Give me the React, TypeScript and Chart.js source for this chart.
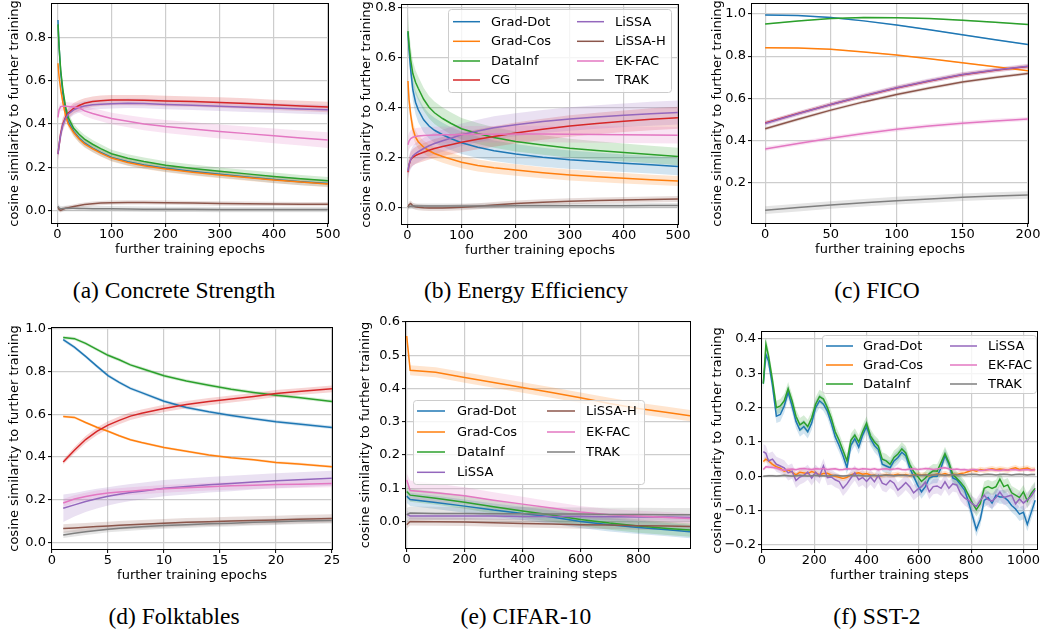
import { useEffect, useRef } from "react";
import { Chart, registerables } from "chart.js";
Chart.register(...registerables);

const FONT = "'DejaVu Sans', sans-serif";
const COLORS: Record<string, string> = {
  "Grad-Dot": "#1f77b4",
  "Grad-Cos": "#ff7f0e",
  DataInf: "#2ca02c",
  CG: "#d62728",
  LiSSA: "#9467bd",
  "LiSSA-H": "#8c564b",
  "EK-FAC": "#e377c2",
  TRAK: "#7f7f7f",
};

// ---------- (a) Concrete Strength ----------
const A_X = [1, 3, 6, 10, 15, 20, 30, 40, 50, 65, 80, 100, 130, 160, 200, 250, 300, 350, 400, 450, 500];
const A_GRAD_DOT = [0.88, 0.76, 0.64, 0.54, 0.46, 0.41, 0.365, 0.335, 0.312, 0.288, 0.268, 0.245, 0.225, 0.21, 0.195, 0.18, 0.167, 0.155, 0.143, 0.133, 0.125];
const A_GRAD_COS = [0.68, 0.62, 0.56, 0.5, 0.44, 0.4, 0.36, 0.33, 0.308, 0.285, 0.265, 0.242, 0.222, 0.207, 0.192, 0.177, 0.164, 0.152, 0.141, 0.131, 0.122];
const A_DATAINF = [0.86, 0.76, 0.65, 0.56, 0.48, 0.43, 0.38, 0.352, 0.33, 0.306, 0.286, 0.262, 0.241, 0.226, 0.209, 0.194, 0.181, 0.169, 0.157, 0.146, 0.137];
const A_CG = [0.26, 0.3, 0.355, 0.4, 0.43, 0.45, 0.472, 0.485, 0.495, 0.503, 0.507, 0.51, 0.51, 0.509, 0.506, 0.503, 0.499, 0.494, 0.488, 0.483, 0.478];
const A_LISSA = [0.26, 0.3, 0.35, 0.395, 0.425, 0.445, 0.465, 0.476, 0.483, 0.488, 0.491, 0.493, 0.495, 0.494, 0.49, 0.486, 0.481, 0.477, 0.473, 0.469, 0.465];
const A_LISSA_H = [0.015, 0.005, 0.0, 0.005, 0.01, 0.013, 0.018, 0.023, 0.027, 0.031, 0.034, 0.036, 0.037, 0.037, 0.036, 0.034, 0.032, 0.031, 0.03, 0.029, 0.029];
const A_EKFAC = [0.43, 0.465, 0.48, 0.482, 0.481, 0.48, 0.478, 0.475, 0.46, 0.448, 0.438, 0.425, 0.412, 0.4, 0.388, 0.376, 0.365, 0.355, 0.345, 0.335, 0.325];
const A_TRAK = [0.02, 0.012, 0.008, 0.009, 0.01, 0.01, 0.01, 0.009, 0.009, 0.008, 0.008, 0.008, 0.007, 0.006, 0.005, 0.005, 0.004, 0.004, 0.004, 0.004, 0.004];
const A_SD_GRAD_DOT = [0.01, 0.015, 0.018, 0.02, 0.02, 0.02, 0.02, 0.02, 0.019, 0.018, 0.018, 0.017, 0.017, 0.016, 0.016, 0.016, 0.016, 0.016, 0.016, 0.016, 0.016];
const A_SD_GRAD_COS = [0.01, 0.014, 0.016, 0.018, 0.018, 0.018, 0.018, 0.017, 0.017, 0.016, 0.016, 0.016, 0.015, 0.015, 0.015, 0.015, 0.015, 0.015, 0.015, 0.015, 0.015];
const A_SD_DATAINF = [0.01, 0.015, 0.018, 0.02, 0.02, 0.02, 0.02, 0.02, 0.02, 0.02, 0.02, 0.019, 0.019, 0.019, 0.018, 0.018, 0.018, 0.018, 0.018, 0.018, 0.018];
const A_SD_CG = [0.03, 0.03, 0.03, 0.028, 0.026, 0.025, 0.024, 0.024, 0.024, 0.024, 0.024, 0.024, 0.024, 0.024, 0.024, 0.024, 0.024, 0.024, 0.024, 0.024, 0.024];
const A_SD_LISSA = [0.03, 0.03, 0.03, 0.028, 0.026, 0.025, 0.024, 0.023, 0.023, 0.022, 0.022, 0.022, 0.022, 0.022, 0.022, 0.022, 0.022, 0.022, 0.022, 0.022, 0.022];
const A_SD_EKFAC = [0.02, 0.02, 0.02, 0.02, 0.02, 0.02, 0.02, 0.022, 0.024, 0.025, 0.026, 0.027, 0.028, 0.029, 0.03, 0.031, 0.032, 0.033, 0.034, 0.035, 0.036];
const A_SD_LISSA_H = 0.01;
const A_SD_TRAK = 0.012;

// ---------- (b) Energy Efficiency ----------
const B_X = [1, 3, 6, 10, 15, 20, 30, 40, 50, 65, 80, 100, 130, 160, 200, 250, 300, 350, 400, 450, 500];
const B_GRAD_DOT = [0.7, 0.63, 0.55, 0.47, 0.42, 0.39, 0.35, 0.325, 0.308, 0.29, 0.275, 0.258, 0.24, 0.226, 0.213, 0.2, 0.19, 0.183, 0.176, 0.17, 0.163];
const B_GRAD_COS = [0.505, 0.43, 0.37, 0.315, 0.28, 0.262, 0.24, 0.226, 0.215, 0.203, 0.193, 0.18, 0.167, 0.158, 0.149, 0.138, 0.129, 0.122, 0.116, 0.11, 0.105];
const B_DATAINF = [0.705, 0.65, 0.59, 0.535, 0.5, 0.476, 0.432, 0.4, 0.378, 0.355, 0.336, 0.314, 0.295, 0.279, 0.263, 0.249, 0.236, 0.227, 0.219, 0.211, 0.203];
const B_CG = [0.14, 0.17, 0.19, 0.2, 0.207, 0.212, 0.22, 0.228, 0.235, 0.243, 0.25, 0.26, 0.272, 0.283, 0.297, 0.312, 0.325, 0.335, 0.344, 0.352, 0.358];
const B_LISSA = [0.145, 0.17, 0.19, 0.205, 0.215, 0.222, 0.235, 0.246, 0.255, 0.266, 0.276, 0.29, 0.305, 0.318, 0.33, 0.343, 0.353, 0.361, 0.368, 0.374, 0.379];
const B_LISSA_H = [0.0, 0.01, 0.015, 0.006, 0.002, 0.0, -0.002, -0.003, -0.003, -0.003, -0.002, 0.0, 0.004, 0.009, 0.015, 0.02, 0.024, 0.027, 0.029, 0.031, 0.033];
const B_EKFAC = [0.25, 0.265, 0.275, 0.28, 0.283, 0.285, 0.287, 0.288, 0.289, 0.29, 0.29, 0.291, 0.292, 0.292, 0.293, 0.293, 0.292, 0.291, 0.29, 0.289, 0.288];
const B_TRAK = [0.0, 0.003, 0.004, 0.005, 0.005, 0.005, 0.005, 0.005, 0.005, 0.005, 0.005, 0.005, 0.005, 0.005, 0.006, 0.006, 0.006, 0.006, 0.006, 0.007, 0.007];
const B_SD_GRAD_DOT = [0.02, 0.03, 0.04, 0.045, 0.048, 0.05, 0.05, 0.05, 0.05, 0.048, 0.046, 0.045, 0.043, 0.041, 0.04, 0.038, 0.037, 0.036, 0.035, 0.035, 0.035];
const B_SD_GRAD_COS = [0.03, 0.03, 0.03, 0.03, 0.028, 0.027, 0.026, 0.025, 0.025, 0.025, 0.025, 0.024, 0.024, 0.023, 0.023, 0.022, 0.022, 0.021, 0.021, 0.02, 0.02];
const B_SD_DATAINF = [0.07, 0.06, 0.055, 0.05, 0.048, 0.047, 0.046, 0.045, 0.045, 0.044, 0.044, 0.043, 0.042, 0.041, 0.04, 0.039, 0.038, 0.037, 0.036, 0.035, 0.035];
const B_SD_CG = [0.03, 0.03, 0.032, 0.033, 0.034, 0.035, 0.036, 0.037, 0.038, 0.038, 0.039, 0.04, 0.04, 0.041, 0.042, 0.042, 0.043, 0.043, 0.043, 0.044, 0.044];
const B_SD_LISSA = [0.03, 0.035, 0.038, 0.04, 0.041, 0.042, 0.043, 0.043, 0.044, 0.044, 0.045, 0.045, 0.045, 0.046, 0.046, 0.046, 0.047, 0.047, 0.047, 0.048, 0.048];
const B_SD_EKFAC = 0.033;
const B_SD_LISSA_H = 0.012;
const B_SD_TRAK = 0.01;

// ---------- (c) FICO ----------
const C_X = [0, 25, 50, 75, 100, 125, 150, 175, 200];
const C_GRAD_DOT = [0.995, 0.992, 0.983, 0.967, 0.947, 0.925, 0.901, 0.878, 0.855];
const C_GRAD_COS = [0.84, 0.838, 0.832, 0.82, 0.805, 0.788, 0.768, 0.75, 0.731];
const C_DATAINF = [0.952, 0.967, 0.978, 0.983, 0.982, 0.978, 0.97, 0.96, 0.95];
const C_CG = [0.483, 0.528, 0.571, 0.611, 0.649, 0.682, 0.712, 0.733, 0.751];
const C_LISSA = [0.481, 0.527, 0.571, 0.612, 0.65, 0.683, 0.713, 0.734, 0.752];
const C_LISSA_H = [0.456, 0.501, 0.544, 0.583, 0.618, 0.649, 0.677, 0.699, 0.718];
const C_EKFAC = [0.36, 0.386, 0.411, 0.433, 0.453, 0.469, 0.482, 0.493, 0.502];
const C_TRAK = [0.07, 0.082, 0.094, 0.105, 0.115, 0.123, 0.131, 0.137, 0.142];
const C_SD_SMALL = 0.003;
const C_SD_CG = 0.01;
const C_SD_LISSA = 0.012;
const C_SD_LISSA_H = 0.008;
const C_SD_EKFAC = 0.01;
const C_SD_TRAK = 0.018;

// ---------- (d) Folktables ----------
const D_X = [1, 2, 3, 4, 5, 6, 7, 8, 10, 12, 14, 16, 18, 20, 22, 25];
const D_GRAD_DOT = [0.95, 0.915, 0.872, 0.826, 0.782, 0.75, 0.722, 0.702, 0.662, 0.632, 0.612, 0.595, 0.58, 0.566, 0.555, 0.539];
const D_GRAD_COS = [0.59, 0.586, 0.562, 0.54, 0.521, 0.5, 0.481, 0.468, 0.445, 0.427, 0.41, 0.397, 0.387, 0.375, 0.368, 0.355];
const D_DATAINF = [0.96, 0.955, 0.933, 0.905, 0.877, 0.856, 0.832, 0.815, 0.781, 0.757, 0.737, 0.718, 0.703, 0.69, 0.679, 0.661];
const D_CG = [0.377, 0.432, 0.482, 0.52, 0.55, 0.572, 0.592, 0.605, 0.628, 0.646, 0.66, 0.672, 0.684, 0.698, 0.707, 0.72];
const D_LISSA = [0.16, 0.176, 0.192, 0.205, 0.216, 0.226, 0.234, 0.24, 0.254, 0.262, 0.27, 0.276, 0.283, 0.289, 0.294, 0.301];
const D_LISSA_H = [0.065, 0.068, 0.071, 0.074, 0.077, 0.08, 0.083, 0.085, 0.09, 0.094, 0.097, 0.1, 0.103, 0.105, 0.108, 0.112];
const D_EKFAC = [0.185, 0.203, 0.215, 0.225, 0.232, 0.236, 0.24, 0.244, 0.251, 0.256, 0.261, 0.265, 0.268, 0.271, 0.273, 0.276];
const D_TRAK = [0.035, 0.043, 0.05, 0.056, 0.062, 0.066, 0.07, 0.073, 0.079, 0.083, 0.087, 0.09, 0.094, 0.097, 0.1, 0.103];
const D_SD_CG = [0.012, 0.015, 0.017, 0.018, 0.018, 0.018, 0.018, 0.018, 0.017, 0.017, 0.017, 0.016, 0.016, 0.016, 0.016, 0.016];
const D_SD_LISSA = [0.065, 0.055, 0.05, 0.046, 0.043, 0.041, 0.04, 0.039, 0.038, 0.037, 0.036, 0.036, 0.035, 0.035, 0.035, 0.035];
const D_SD_GRAD = 0.008;
const D_SD_GRAD_COS = 0.006;
const D_SD_EKFAC = 0.018;
const D_SD_LISSA_H = 0.02;
const D_SD_TRAK = 0.015;

// ---------- (e) CIFAR-10 ----------
const E_X = [0, 12, 100, 200, 300, 400, 500, 600, 700, 800, 900, 978];
const E_GRAD_DOT = [0.076, 0.066, 0.057, 0.046, 0.034, 0.024, 0.013, 0.0, -0.01, -0.018, -0.025, -0.031];
const E_GRAD_COS = [0.558, 0.455, 0.449, 0.433, 0.418, 0.403, 0.388, 0.372, 0.355, 0.34, 0.328, 0.318];
const E_DATAINF = [0.09, 0.079, 0.07, 0.058, 0.044, 0.031, 0.019, 0.006, -0.005, -0.014, -0.021, -0.026];
const E_LISSA = [0.022, 0.016, 0.016, 0.016, 0.016, 0.015, 0.015, 0.015, 0.014, 0.013, 0.013, 0.012];
const E_LISSA_H = [-0.01, 0.0, -0.001, -0.002, -0.004, -0.006, -0.008, -0.01, -0.011, -0.013, -0.014, -0.015];
const E_EKFAC = [0.125, 0.093, 0.086, 0.077, 0.064, 0.052, 0.04, 0.028, 0.02, 0.016, 0.012, 0.009];
const E_TRAK = [0.02, 0.025, 0.024, 0.024, 0.023, 0.023, 0.022, 0.022, 0.021, 0.021, 0.02, 0.02];
const E_SD_GRAD_COS = [0.012, 0.015, 0.015, 0.016, 0.016, 0.016, 0.016, 0.016, 0.017, 0.017, 0.017, 0.017];
const E_SD_EKFAC = [0.02, 0.03, 0.028, 0.026, 0.024, 0.022, 0.02, 0.018, 0.017, 0.016, 0.016, 0.015];
const E_SD_GRAD = 0.02;
const E_SD_LISSA = 0.01;
const E_SD_LISSA_H = 0.012;
const E_SD_TRAK = 0.02;

// ---------- (f) SST-2 ----------
const F_X = [5, 15, 25, 40, 55, 70, 85, 100, 115, 130, 145, 160, 175, 190, 205, 220, 235, 250, 265, 280, 295, 310, 325, 340, 355, 370, 385, 400, 415, 430, 445, 460, 475, 490, 505, 520, 535, 550, 565, 580, 595, 610, 625, 640, 655, 670, 685, 700, 715, 730, 745, 760, 775, 790, 805, 820, 835, 850, 865, 880, 895, 910, 925, 940, 955, 970, 985, 1000, 1015, 1030, 1045];
const F_GRAD_DOT = [0.27, 0.355, 0.335, 0.265, 0.175, 0.18, 0.205, 0.245, 0.205, 0.16,
  0.135, 0.145, 0.13, 0.155, 0.2, 0.22, 0.21, 0.19, 0.155, 0.115,
  0.09, 0.06, 0.025, 0.09, 0.11, 0.085, 0.12, 0.145, 0.11, 0.09,
  0.078, 0.035, 0.03, 0.025, 0.045, 0.055, 0.07, 0.06, 0.025, 0.0,
  -0.025, -0.045, -0.03, -0.005, 0.0, 0.0, 0.025, 0.06, 0.035, -0.005,
  -0.01, -0.025, -0.04, -0.075, -0.115, -0.155, -0.125, -0.07, -0.062, -0.078,
  -0.055, -0.06, -0.06, -0.07, -0.085, -0.095, -0.11, -0.105, -0.14, -0.105, -0.07];
const F_GRAD_COS = [0.043, 0.05, 0.045, 0.035, 0.028, 0.024, 0.015, 0.018, 0.012, 0.004,
  0.012, 0.01, 0.008, 0.014, 0.01, 0.005, 0.008, 0.009, 0.004, 0.0,
  -0.003, -0.006, -0.003, 0.004, 0.008, 0.01, 0.006, 0.008, 0.004, 0.003,
  0.0, 0.002, 0.005, 0.003, 0.004, 0.006, 0.003, 0.005, 0.002, 0.004,
  0.006, 0.003, 0.005, 0.002, 0.004, 0.007, 0.005, 0.008, 0.004, 0.006,
  0.005, 0.008, 0.01, 0.014, 0.018, 0.015, 0.02, 0.018, 0.02, 0.022,
  0.019, 0.021, 0.02, 0.018, 0.022, 0.025, 0.02, 0.022, 0.024, 0.019, 0.02];
const F_DATAINF = [0.27, 0.385, 0.35, 0.28, 0.2, 0.205, 0.22, 0.255, 0.22, 0.175,
  0.15, 0.158, 0.145, 0.17, 0.21, 0.232, 0.225, 0.2, 0.17, 0.13,
  0.105, 0.075, 0.045, 0.105, 0.12, 0.1, 0.13, 0.155, 0.118, 0.1,
  0.088, 0.05, 0.045, 0.035, 0.055, 0.065, 0.08, 0.068, 0.035, 0.014,
  0.0, -0.015, -0.005, 0.008, 0.016, 0.015, 0.04, 0.066, 0.04, 0.005,
  -0.006, -0.018, -0.032, -0.055, -0.078, -0.097, -0.08, -0.035, -0.03, -0.035,
  -0.03, -0.008, -0.03, -0.025, -0.048, -0.055, -0.062, -0.045, -0.072, -0.05, -0.035];
const F_LISSA = [0.072, 0.067, 0.045, 0.05, 0.035, 0.03, 0.025, 0.01, 0.015, -0.012,
  -0.002, 0.003, 0.012, -0.005, 0.012, 0.0, 0.03, -0.004, -0.002, -0.01,
  -0.015, -0.035, -0.022, -0.005, 0.01, -0.01, -0.003, -0.015, -0.002, -0.016,
  0.003, -0.02, -0.025, -0.012, -0.02, -0.04, -0.03, -0.018, -0.03, -0.048,
  -0.038, -0.03, -0.017, -0.045, -0.03, -0.028, -0.035, -0.016, -0.035, -0.022,
  -0.025, -0.05, -0.063, -0.07, -0.08, -0.088, -0.07, -0.055, -0.068, -0.072,
  -0.062, -0.046, -0.062, -0.058, -0.055, -0.08, -0.066, -0.078, -0.068, -0.058, -0.04];
const F_EKFAC = [0.02, 0.028, 0.027, 0.026, 0.024, 0.02, 0.018, 0.02, 0.021, 0.019,
  0.022, 0.023, 0.021, 0.02, 0.022, 0.021, 0.023, 0.02, 0.021, 0.022,
  0.019, 0.02, 0.022, 0.021, 0.023, 0.02, 0.022, 0.021, 0.02, 0.022,
  0.019, 0.021, 0.022, 0.02, 0.021, 0.023, 0.02, 0.019, 0.021, 0.022,
  0.02, 0.021, 0.023, 0.022, 0.02, 0.021, 0.024, 0.025, 0.022, 0.02,
  0.021, 0.019, 0.02, 0.018, 0.02, 0.019, 0.017, 0.018, 0.02, 0.019,
  0.018, 0.017, 0.019, 0.018, 0.02, 0.019, 0.018, 0.019, 0.02, 0.018, 0.019];
const F_TRAK = [0.0, 0.001, 0.002, 0.002, 0.001, 0.002, 0.003, 0.002, 0.001, 0.002,
  0.003, 0.002, 0.001, 0.002, 0.003, 0.002, 0.002, 0.001, 0.002, 0.003,
  0.002, 0.001, 0.002, 0.003, 0.002, 0.003, 0.002, 0.001, 0.002, 0.003,
  0.002, 0.003, 0.004, 0.003, 0.002, 0.003, 0.004, 0.003, 0.002, 0.003,
  0.004, 0.003, 0.004, 0.003, 0.004, 0.005, 0.004, 0.003, 0.004, 0.005,
  0.004, 0.005, 0.004, 0.005, 0.006, 0.005, 0.004, 0.005, 0.006, 0.005,
  0.004, 0.005, 0.006, 0.005, 0.004, 0.005, 0.006, 0.005, 0.004, 0.005, 0.005];
const F_SD_GRAD_DOT = 0.02;
const F_SD_GRAD_COS = 0.008;
const F_SD_DATAINF = 0.02;
const F_SD_LISSA = 0.022;
const F_SD_EKFAC = 0.005;
const F_SD_TRAK = 0.003;

// ---------- ticks ----------
const TICKS_X_500 = [0, 100, 200, 300, 400, 500];
const TICKS_X_200 = [0, 50, 100, 150, 200];
const TICKS_X_25 = [0, 5, 10, 15, 20, 25];
const TICKS_X_800 = [0, 200, 400, 600, 800];
const TICKS_X_1000 = [0, 200, 400, 600, 800, 1000];
const TICKS_Y_08 = [0, 0.2, 0.4, 0.6, 0.8];
const TICKS_Y_C = [0.2, 0.4, 0.6, 0.8, 1.0];
const TICKS_Y_10 = [0, 0.2, 0.4, 0.6, 0.8, 1.0];
const TICKS_Y_E = [0, 0.1, 0.2, 0.3, 0.4, 0.5, 0.6];
const TICKS_Y_F = [-0.2, -0.1, 0, 0.1, 0.2, 0.3, 0.4];

const Y_TITLE = "cosine similarity to further training";

type Series = { name: string; y: number[]; sd: number[] | number };
type LegendCfg = { box: number[]; rows: number[]; cols: { l0: number; l1: number; tx: number }[] };
type Panel = {
  key: string;
  x: number[];
  series: Series[];
  xTicks: number[];
  yTicks: number[];
  xRange: [number, number];
  yRange: [number, number];
  xTitle: string;
  caption: string;
  rect: [number, number, number, number];
  yTitleX: number;
  capX: number;
  capTop: number;
  legend?: LegendCfg;
};

const PANELS: Panel[] = [
  {
    key: "a", x: A_X,
    series: [
      { name: "Grad-Dot", y: A_GRAD_DOT, sd: A_SD_GRAD_DOT },
      { name: "Grad-Cos", y: A_GRAD_COS, sd: A_SD_GRAD_COS },
      { name: "DataInf", y: A_DATAINF, sd: A_SD_DATAINF },
      { name: "CG", y: A_CG, sd: A_SD_CG },
      { name: "LiSSA", y: A_LISSA, sd: A_SD_LISSA },
      { name: "LiSSA-H", y: A_LISSA_H, sd: A_SD_LISSA_H },
      { name: "EK-FAC", y: A_EKFAC, sd: A_SD_EKFAC },
      { name: "TRAK", y: A_TRAK, sd: A_SD_TRAK },
    ],
    xTicks: TICKS_X_500, yTicks: TICKS_Y_08, xRange: [-10, 500], yRange: [-0.058, 0.954],
    xTitle: "further training epochs", caption: "(a) Concrete Strength",
    rect: [52, 4, 328, 223], yTitleX: 15, capX: 174, capTop: 279,
  },
  {
    key: "b", x: B_X,
    series: [
      { name: "Grad-Dot", y: B_GRAD_DOT, sd: B_SD_GRAD_DOT },
      { name: "Grad-Cos", y: B_GRAD_COS, sd: B_SD_GRAD_COS },
      { name: "DataInf", y: B_DATAINF, sd: B_SD_DATAINF },
      { name: "CG", y: B_CG, sd: B_SD_CG },
      { name: "LiSSA", y: B_LISSA, sd: B_SD_LISSA },
      { name: "LiSSA-H", y: B_LISSA_H, sd: B_SD_LISSA_H },
      { name: "EK-FAC", y: B_EKFAC, sd: B_SD_EKFAC },
      { name: "TRAK", y: B_TRAK, sd: B_SD_TRAK },
    ],
    xTicks: TICKS_X_500, yTicks: TICKS_Y_08, xRange: [-10, 500], yRange: [-0.067, 0.809],
    xTitle: "further training epochs", caption: "(b) Energy Efficiency",
    rect: [402, 5, 678, 224], yTitleX: 367, capX: 526, capTop: 279,
    legend: { box: [448, 9, 671, 92], rows: [21.7, 41.3, 61, 80], cols: [{ l0: 453, l1: 480, tx: 491 }, { l0: 577, l1: 604, tx: 615 }] },
  },
  {
    key: "c", x: C_X,
    series: [
      { name: "Grad-Dot", y: C_GRAD_DOT, sd: C_SD_SMALL },
      { name: "Grad-Cos", y: C_GRAD_COS, sd: C_SD_SMALL },
      { name: "DataInf", y: C_DATAINF, sd: C_SD_SMALL },
      { name: "CG", y: C_CG, sd: C_SD_CG },
      { name: "LiSSA", y: C_LISSA, sd: C_SD_LISSA },
      { name: "LiSSA-H", y: C_LISSA_H, sd: C_SD_LISSA_H },
      { name: "EK-FAC", y: C_EKFAC, sd: C_SD_EKFAC },
      { name: "TRAK", y: C_TRAK, sd: C_SD_TRAK },
    ],
    xTicks: TICKS_X_200, yTicks: TICKS_Y_C, xRange: [-10, 200], yRange: [0.009, 1.047],
    xTitle: "further training epochs", caption: "(c) FICO",
    rect: [752, 4, 1028, 223], yTitleX: 718, capX: 877, capTop: 279,
  },
  {
    key: "d", x: D_X,
    series: [
      { name: "Grad-Dot", y: D_GRAD_DOT, sd: D_SD_GRAD },
      { name: "Grad-Cos", y: D_GRAD_COS, sd: D_SD_GRAD_COS },
      { name: "DataInf", y: D_DATAINF, sd: D_SD_GRAD },
      { name: "CG", y: D_CG, sd: D_SD_CG },
      { name: "LiSSA", y: D_LISSA, sd: D_SD_LISSA },
      { name: "LiSSA-H", y: D_LISSA_H, sd: D_SD_LISSA_H },
      { name: "EK-FAC", y: D_EKFAC, sd: D_SD_EKFAC },
      { name: "TRAK", y: D_TRAK, sd: D_SD_TRAK },
    ],
    xTicks: TICKS_X_25, yTicks: TICKS_Y_10, xRange: [0, 25], yRange: [-0.031, 1.005],
    xTitle: "further training epochs", caption: "(d) Folktables",
    rect: [52, 328, 332, 549], yTitleX: 15, capX: 174, capTop: 605,
  },
  {
    key: "e", x: E_X,
    series: [
      { name: "Grad-Dot", y: E_GRAD_DOT, sd: E_SD_GRAD },
      { name: "Grad-Cos", y: E_GRAD_COS, sd: E_SD_GRAD_COS },
      { name: "DataInf", y: E_DATAINF, sd: E_SD_GRAD },
      { name: "LiSSA", y: E_LISSA, sd: E_SD_LISSA },
      { name: "LiSSA-H", y: E_LISSA_H, sd: E_SD_LISSA_H },
      { name: "EK-FAC", y: E_EKFAC, sd: E_SD_EKFAC },
      { name: "TRAK", y: E_TRAK, sd: E_SD_TRAK },
    ],
    xTicks: TICKS_X_800, yTicks: TICKS_Y_E, xRange: [-2.4, 978], yRange: [-0.08, 0.6],
    xTitle: "further training steps", caption: "(e) CIFAR-10",
    rect: [406, 322, 690, 548], yTitleX: 366, capX: 526, capTop: 605,
    legend: { box: [413, 400, 644, 484], rows: [411, 432, 452, 472.3], cols: [{ l0: 417, l1: 445, tx: 457 }, { l0: 547, l1: 575, tx: 586 }] },
  },
  {
    key: "f", x: F_X,
    series: [
      { name: "Grad-Dot", y: F_GRAD_DOT, sd: F_SD_GRAD_DOT },
      { name: "Grad-Cos", y: F_GRAD_COS, sd: F_SD_GRAD_COS },
      { name: "DataInf", y: F_DATAINF, sd: F_SD_DATAINF },
      { name: "LiSSA", y: F_LISSA, sd: F_SD_LISSA },
      { name: "EK-FAC", y: F_EKFAC, sd: F_SD_EKFAC },
      { name: "TRAK", y: F_TRAK, sd: F_SD_TRAK },
    ],
    xTicks: TICKS_X_1000, yTicks: TICKS_Y_F, xRange: [0, 1052], yRange: [-0.2117, 0.4204],
    xTitle: "further training steps", caption: "(f) SST-2",
    rect: [762, 332, 1037, 549], yTitleX: 718, capX: 877, capTop: 605,
    legend: { box: [822, 335, 1036, 393], rows: [346, 365, 384], cols: [{ l0: 826, l1: 853, tx: 863 }, { l0: 950, l1: 977, tx: 988 }] },
  },
];

const TPAD = 16;
const BPAD = 36;
const RPAD = 24;
const GRID = "#cdcdcd";

function rgba(hex: string, a: number) {
  const n = parseInt(hex.slice(1), 16);
  return `rgba(${(n >> 16) & 255},${(n >> 8) & 255},${n & 255},${a})`;
}

function fmtY(v: number) {
  return v.toFixed(1).replace("-", "\u2212");
}

function PanelChart({ p }: { p: Panel }) {
  const ref = useRef<HTMLCanvasElement>(null);
  const [x0, y0, x1, y1] = p.rect;
  const cl = Math.floor(p.yTitleX - 10);
  const ct = y0 - TPAD;
  const lpad = x0 - cl;
  const w = x1 - x0 + lpad + RPAD;
  const h = y1 - y0 + TPAD + BPAD;

  useEffect(() => {
    if (!ref.current) return;
    const datasets: any[] = [];
    p.series.forEach((s, i) => {
      const sd = (j: number) => (typeof s.sd === "number" ? s.sd : s.sd[j]);
      datasets.push({
        label: "_lo_" + s.name,
        data: p.x.map((x, j) => ({ x, y: s.y[j] - sd(j) })),
        borderColor: "transparent", borderWidth: 0, pointRadius: 0, fill: false, order: 500 - i,
      });
      datasets.push({
        label: "_hi_" + s.name,
        data: p.x.map((x, j) => ({ x, y: s.y[j] + sd(j) })),
        borderColor: "transparent", borderWidth: 0, pointRadius: 0,
        fill: "-1", backgroundColor: rgba(COLORS[s.name], 0.2), order: 500 - i,
      });
    });
    p.series.forEach((s, i) => {
      datasets.push({
        label: s.name,
        data: p.x.map((x, j) => ({ x, y: s.y[j] })),
        borderColor: COLORS[s.name], borderWidth: 1.5, pointRadius: 0, fill: false, order: 100 - i,
      });
    });

    const framePlugin = {
      id: "frame",
      afterDatasetsDraw(chart: any) {
        const { ctx, chartArea: a } = chart;
        ctx.save();
        ctx.strokeStyle = "#000";
        ctx.lineWidth = 1;
        ctx.strokeRect(Math.round(a.left) - 0.5, Math.round(a.top) - 0.5, Math.round(a.right - a.left) + 1, Math.round(a.bottom - a.top) + 1);
        ctx.restore();
      },
    };

    const legendPlugin = {
      id: "mplLegend",
      afterDraw(chart: any) {
        const L = p.legend;
        if (!L) return;
        const ctx = chart.ctx as CanvasRenderingContext2D;
        const [bx0, by0, bx1, by1] = L.box;
        const X = (v: number) => v - cl;
        const Y = (v: number) => v - ct;
        ctx.save();
        ctx.beginPath();
        ctx.roundRect(X(bx0) + 0.5, Y(by0) + 0.5, bx1 - bx0, by1 - by0, 3);
        ctx.fillStyle = "rgba(255,255,255,0.8)";
        ctx.fill();
        ctx.strokeStyle = "#cccccc";
        ctx.lineWidth = 1;
        ctx.stroke();
        const nr = L.rows.length;
        ctx.font = `13px ${FONT}`;
        ctx.textBaseline = "middle";
        ctx.textAlign = "left";
        p.series.forEach((s, i) => {
          const col = L.cols[Math.floor(i / nr)];
          const ry = Y(L.rows[i % nr]);
          ctx.strokeStyle = COLORS[s.name];
          ctx.lineWidth = 1.5;
          ctx.beginPath();
          ctx.moveTo(X(col.l0), ry);
          ctx.lineTo(X(col.l1), ry);
          ctx.stroke();
          ctx.fillStyle = "#000";
          ctx.fillText(s.name, X(col.tx), ry + 0.5);
        });
        ctx.restore();
      },
    };

    const chart = new Chart(ref.current, {
      type: "line",
      data: { datasets },
      options: {
        animation: false,
        responsive: false,
        events: [],
        layout: { padding: { top: TPAD, right: RPAD, left: 0, bottom: 0 } },
        plugins: { legend: { display: false }, tooltip: { enabled: false } },
        scales: {
          x: {
            type: "linear", min: p.xRange[0], max: p.xRange[1], bounds: "data",
            afterBuildTicks: (s: any) => { s.ticks = p.xTicks.map((v) => ({ value: v })); },
            afterFit: (s: any) => { s.height = BPAD; },
            ticks: { color: "#000", font: { family: FONT, size: 13 }, padding: 0, maxRotation: 0, autoSkip: false, callback: (v: any) => String(v) },
            grid: { color: GRID, lineWidth: 1.2, tickLength: 4, tickColor: "#000", tickWidth: 1, drawTicks: true },
            border: { display: false },
            title: { display: true, text: p.xTitle, color: "#000", font: { family: FONT, size: 13 }, padding: { top: 0, bottom: 1.2 } },
          },
          y: {
            type: "linear", min: p.yRange[0], max: p.yRange[1], bounds: "data",
            afterBuildTicks: (s: any) => { s.ticks = p.yTicks.map((v) => ({ value: v })); },
            afterFit: (s: any) => { s.width = lpad; },
            ticks: { color: "#000", font: { family: FONT, size: 13 }, padding: 2, autoSkip: false, callback: (v: any) => fmtY(Number(v)) },
            grid: { color: GRID, lineWidth: 1.2, tickLength: 4, tickColor: "#000", tickWidth: 1, drawTicks: true },
            border: { display: false },
            title: { display: true, text: Y_TITLE, color: "#000", font: { family: FONT, size: 13 }, padding: { top: p.yTitleX - cl - 7.8, bottom: 0 } },
          },
        },
      } as any,
      plugins: [framePlugin, legendPlugin],
    });
    return () => chart.destroy();
  }, []);

  return (
    <canvas
      ref={ref}
      width={w}
      height={h}
      style={{ position: "absolute", left: cl, top: ct, width: w, height: h }}
    />
  );
}

export default function App() {
  return (
    <div style={{ position: "absolute", left: 0, top: 0, width: 1042, height: 634, overflow: "hidden", background: "#fff" }}>
      {PANELS.map((p) => (
        <PanelChart key={p.key} p={p} />
      ))}
      {PANELS.map((p) => (
        <div
          key={"cap" + p.key}
          style={{
            position: "absolute", left: p.capX - 200, top: p.capTop, width: 400, textAlign: "center",
            fontFamily: "'Liberation Serif', 'Times New Roman', serif", fontSize: "23.5px", lineHeight: "23.5px", color: "#000",
            whiteSpace: "nowrap",
          }}
        >
          {p.caption}
        </div>
      ))}
    </div>
  );
}
